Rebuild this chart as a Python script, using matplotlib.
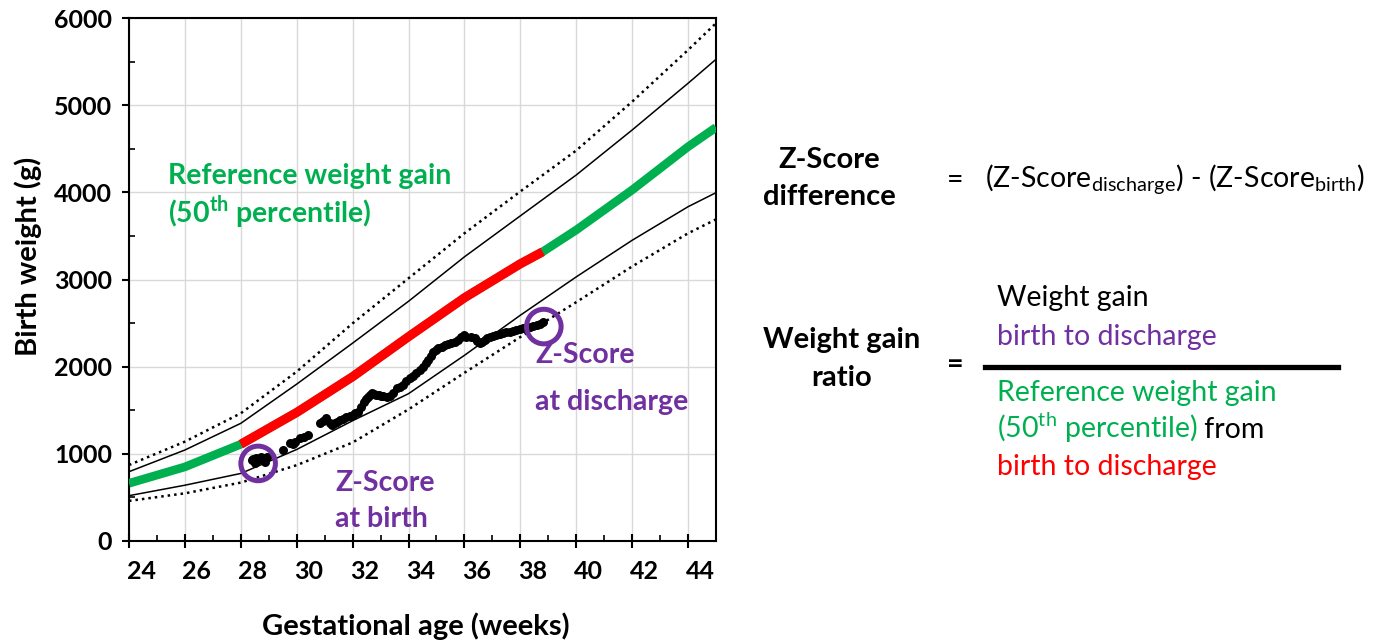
import numpy as np
import matplotlib
matplotlib.use("Agg")
import matplotlib.pyplot as plt
from matplotlib.transforms import ScaledTranslation

plt.rcParams['font.family'] = ['Lato', 'DejaVu Sans']
plt.rcParams['mathtext.fontset'] = 'custom'
plt.rcParams['mathtext.rm'] = 'Lato'
plt.rcParams['mathtext.bf'] = 'Lato:bold'

GREEN = '#00B050'
RED = '#FF0000'
PURPLE = '#7030A0'

# reference percentile curves (g) by gestational age (weeks)
weeks = [24, 26, 28, 30, 32, 34, 36, 38, 40, 42, 44, 45]
upper_dotted = [872, 1140, 1465, 1943, 2497, 3014, 3530, 4010, 4480, 5040, 5633, 5940]
upper_solid = [795, 1044, 1350, 1800, 2270, 2750, 3260, 3730, 4199, 4715, 5251, 5526]
lower_solid = [520, 640, 775, 1050, 1380, 1690, 2130, 2590, 3030, 3450, 3835, 3996]
lower_dotted = [460, 547, 670, 870, 1130, 1510, 1930, 2340, 2740, 3150, 3530, 3690]

# 50th percentile, red part = birth to discharge
p50_weeks = [24, 26, 28, 30, 32, 34, 36, 38, 38.8, 40, 42, 44, 45]
p50 = [662, 850, 1110, 1475, 1885, 2344, 2790, 3180, 3318, 3568, 4027, 4523, 4745]
birth_wk = 28
discharge_wk = 38.8

# infant weights
infant_wk = [28.40, 28.44, 28.50, 28.56, 28.62, 28.68, 28.74, 28.80, 28.86, 28.95,
             29.51, 29.75, 29.85, 29.93, 30.11, 30.25, 30.40, 30.82, 30.95, 31.06,
             31.18, 31.25, 31.36, 31.45, 31.54, 31.66, 31.78, 31.90, 32.01, 32.10,
             32.19, 32.30, 32.41, 32.48, 32.55, 32.62, 32.68, 32.76, 32.85, 32.95,
             33.03, 33.10, 33.23, 33.33, 33.45, 33.57, 33.68, 33.80, 33.92, 34.04,
             34.16, 34.28, 34.40, 34.52, 34.61, 34.70, 34.79, 34.88, 34.97, 35.06,
             35.18, 35.29, 35.41, 35.53, 35.65, 35.77, 35.87, 35.97, 36.07, 36.22,
             36.37, 36.46, 36.55, 36.64, 36.73, 36.82, 36.90, 37.02, 37.14, 37.26,
             37.38, 37.50, 37.62, 37.74, 37.86, 37.98, 38.10, 38.22, 38.34, 38.46,
             38.58, 38.70, 38.81]
infant_g = [925, 937, 900, 950, 929, 945, 967, 940, 910, 960,
            1044, 1121, 1110, 1139, 1178, 1190, 1216, 1350, 1380, 1407,
            1350, 1331, 1350, 1370, 1388, 1400, 1426, 1435, 1445, 1465,
            1483, 1540, 1598, 1625, 1650, 1670, 1694, 1690, 1680, 1675,
            1668, 1660, 1656, 1660, 1700, 1751, 1770, 1790, 1830, 1866,
            1895, 1924, 1960, 2000, 2040, 2076, 2125, 2172, 2195, 2210,
            2230, 2249, 2260, 2268, 2285, 2306, 2340, 2363, 2344, 2335,
            2325, 2295, 2268, 2285, 2306, 2325, 2344, 2352, 2363, 2372,
            2382, 2392, 2401, 2410, 2420, 2430, 2440, 2449, 2458, 2468,
            2478, 2495, 2516]
circle_wk = [28.62, 38.84]
circle_g = [890, 2460]

fig = plt.figure(figsize=(13.74, 6.4), dpi=100)
W, H = 1374, 640
ax = fig.add_axes([129 / W, 1 - 541 / H, (716 - 129) / W, (541 - 18) / H])

ax.plot(weeks, upper_dotted, color='black', lw=1.8, ls=(0, (1, 1.6)), zorder=3)
ax.plot(weeks, lower_dotted, color='black', lw=1.8, ls=(0, (1, 1.6)), zorder=3)
ax.plot(weeks, upper_solid, color='black', lw=1.1, zorder=3)
ax.plot(weeks, lower_solid, color='black', lw=1.1, zorder=3)

ax.plot(p50_weeks, p50, color=GREEN, lw=6.2, solid_capstyle='butt', zorder=4)
red_idx = [i for i, w in enumerate(p50_weeks) if birth_wk <= w <= discharge_wk]
ax.plot([p50_weeks[i] for i in red_idx], [p50[i] for i in red_idx],
        color=RED, lw=6.6, solid_capstyle='butt', zorder=5)

ax.scatter(infant_wk, infant_g, s=42, color='black', zorder=6, linewidths=0)
ax.scatter(circle_wk, circle_g, s=620, facecolors='none', edgecolors=PURPLE,
           linewidths=3.6, zorder=7)

ax.set_xlim(24, 45)
ax.set_ylim(0, 6000)
ax.set_xticks(range(24, 45, 2))
ax.set_xticks(range(24, 46, 1), minor=True)
ax.set_yticks(range(0, 6001, 1000))
ax.set_yticks(range(500, 6000, 1000), minor=True)
ax.grid(True, which='major', color='#d9d9d9', lw=1.0, zorder=0)
ax.set_axisbelow(True)

for s in ax.spines.values():
    s.set_linewidth(1.5)
ax.tick_params(axis='x', which='major', direction='inout', length=10, width=1.5,
               labelsize=18, pad=9)
ax.tick_params(axis='x', which='minor', direction='in', length=4, width=1.2)
ax.tick_params(axis='y', which='major', direction='out', length=5, width=1.5,
               labelsize=18, pad=7)
ax.tick_params(axis='y', which='minor', direction='in', length=4, width=1.2)
for lab in ax.get_xticklabels() + ax.get_yticklabels():
    lab.set_fontweight('bold')
shift = ScaledTranslation(12 / 100, 0, fig.dpi_scale_trans)
for lab in ax.get_xticklabels():
    lab.set_transform(lab.get_transform() + shift)

fig.text(416 / W, 1 - 626 / H, 'Gestational age (weeks)', fontsize=21,
         fontweight='bold', ha='center', va='center')
fig.text(28 / W, 1 - 256 / H, 'Birth weight (g)', fontsize=21, fontweight='bold',
         ha='center', va='center', rotation=90)


def ftext(x, y, s, **kw):
    return fig.text(x / W, 1 - y / H, s, **kw)


FS = 20.5

# labels inside the chart
ftext(168, 176, 'Reference weight gain', color=GREEN, fontsize=FS,
      fontweight='bold', va='center')
ftext(168, 212, r'(50$^{\mathbf{th}}$ percentile)', color=GREEN, fontsize=FS,
      fontweight='bold', va='center')
ftext(335, 483, 'Z-Score', color=PURPLE, fontsize=FS, fontweight='bold', va='center')
ftext(335, 519, 'at birth', color=PURPLE, fontsize=FS, fontweight='bold', va='center')
ftext(535, 355, 'Z-Score', color=PURPLE, fontsize=FS, fontweight='bold', va='center')
ftext(535, 402, 'at discharge', color=PURPLE, fontsize=FS, fontweight='bold',
      va='center')

# right side formulas
ftext(829, 160, 'Z-Score', fontsize=21, fontweight='bold', ha='center', va='center')
ftext(829, 197, 'difference', fontsize=21, fontweight='bold', ha='center', va='center')
ftext(955, 180, '=', fontsize=FS, ha='center', va='center')
ftext(985, 180, r'(Z-Score$_{\mathrm{discharge}}$) - (Z-Score$_{\mathrm{birth}}$)',
      fontsize=FS, va='center')

ftext(842, 340, 'Weight gain', fontsize=21, fontweight='bold', ha='center', va='center')
ftext(842, 378, 'ratio', fontsize=21, fontweight='bold', ha='center', va='center')
ftext(955, 365, '=', fontsize=FS, fontweight='bold', ha='center', va='center')
fig.add_artist(plt.Line2D([985 / W, 1338 / W], [1 - 367 / H, 1 - 367 / H],
                          color='black', lw=3.8))
ftext(997, 298, 'Weight gain', fontsize=FS, va='center')
ftext(997, 337, 'birth to discharge', color=PURPLE, fontsize=FS, va='center')
ftext(997, 393, 'Reference weight gain', color=GREEN, fontsize=FS, va='center')
t50 = ftext(997, 438, r'(50$^{\mathrm{th}}$ percentile)', color=GREEN, fontsize=FS,
            va='baseline')
ftext(997, 467, 'birth to discharge', color=RED, fontsize=FS, va='center')

fig.canvas.draw()
bb = t50.get_window_extent()
fig.text(bb.x1 / W, 1 - 438 / H, ' from', fontsize=FS, color='black',
         va='baseline')

fig.savefig('out.png', dpi=100, facecolor='white')
